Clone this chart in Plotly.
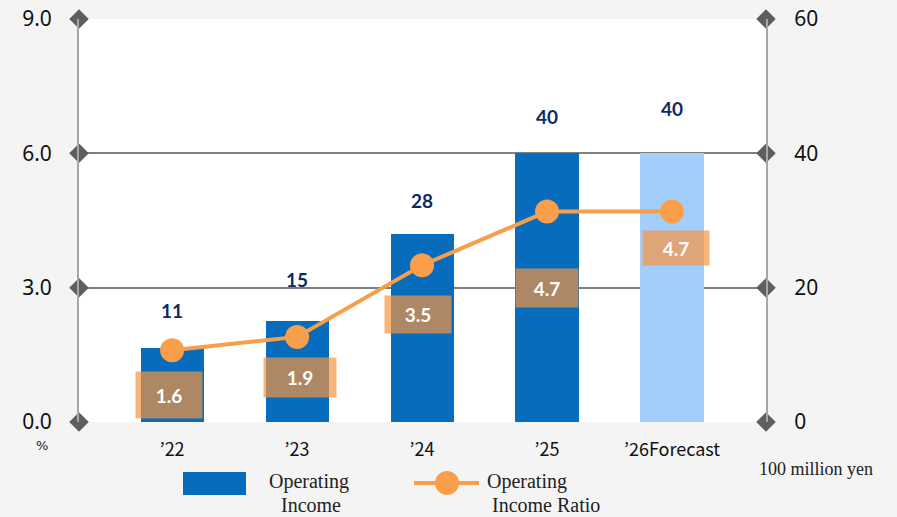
import plotly.graph_objects as go

years = ["’22", "’23", "’24", "’25", "’26Forecast"]
income = [11, 15, 28, 40, 40]
ratio = [1.6, 1.9, 3.5, 4.7, 4.7]
left_ticks = [0, 3, 6, 9]
left_tick_text = ["0.0", "3.0", "6.0", "9.0"]
right_ticks = [0, 20, 40, 60]
right_tick_text = ["0", "20", "40", "60"]

bar_colors = ["#066cbb"] * 4 + ["#a3cdfb"]
x = list(range(len(years)))
XMIN, XMAX = -0.745, 4.752

# layout helpers for labels (pixel offsets, not data)
bar_lab_shift = [38, 42, 33, 37, 45]
ratio_lab_dy = [-45, -41, -49, -76, -36]
ratio_lab_dx = [-3, 3, -4, 0, 4]
ratio_lab_w = [66, 72, 66, 62, 66]
ratio_lab_h = [46, 39, 37, 38, 34]

fig = go.Figure()
fig.add_trace(go.Bar(x=x, y=income, yaxis="y", marker=dict(color=bar_colors, line=dict(width=0)),
                     width=0.505, showlegend=False, hoverinfo="skip"))
fig.add_trace(go.Scatter(x=x, y=ratio, yaxis="y2", mode="lines+markers",
                         line=dict(color="#f79e4a", width=4),
                         marker=dict(color="#f99f4c", size=24), showlegend=False, hoverinfo="skip"))
fig.add_trace(go.Scatter(x=[XMIN] * len(left_ticks) + [XMAX] * len(left_ticks),
                         y=left_ticks + left_ticks, yaxis="y2", mode="markers", cliponaxis=False,
                         marker=dict(symbol="diamond", size=15, color="#5e5e5e"),
                         showlegend=False, hoverinfo="skip"))

ann = []
for i, (xi, v) in enumerate(zip(x, income)):
    ann.append(dict(x=xi, y=v, xref="x", yref="y", text=f"<b>{v}</b>", showarrow=False,
                    yshift=bar_lab_shift[i], font=dict(family="Lato", size=19, color="#0e2a62")))
for i, (xi, v) in enumerate(zip(x, ratio)):
    ann.append(dict(x=xi, y=v, xref="x", yref="y2", text=f"<b>{v:.1f}</b>", showarrow=False,
                    yshift=ratio_lab_dy[i], xshift=ratio_lab_dx[i],
                    width=ratio_lab_w[i], height=ratio_lab_h[i], borderpad=0,
                    bgcolor="rgba(246,148,64,0.7)",
                    font=dict(family="Lato", size=19, color="white")))

W, H = 687.0, 403.0
def px(xp):
    return (xp - 79) / W
def py(yp):
    return (422 - yp) / H

shapes = [
    dict(type="rect", xref="paper", yref="paper", x0=px(183), x1=px(246), y0=py(495), y1=py(472),
         fillcolor="#066cbb", line=dict(width=0)),
    dict(type="line", xref="paper", yref="paper", x0=px(414), x1=px(479), y0=py(483), y1=py(483),
         line=dict(color="#f79e4a", width=4)),
    dict(type="circle", xref="paper", yref="paper", x0=px(435), x1=px(459), y0=py(495), y1=py(471),
         fillcolor="#f99f4c", line=dict(width=0)),
]
serif = "Liberation Serif"
def txt(xp, yp, s, size=20, xa="center", fam=serif):
    return dict(x=px(xp), y=py(yp), xref="paper", yref="paper", text=s, showarrow=False,
                xanchor=xa, yanchor="middle", font=dict(family=fam, size=size, color="#222"))

ann += [
    txt(309, 481, "Operating"),
    txt(311, 505, "Income"),
    txt(485, 481, "Operating", xa="left"),
    txt(490, 505, "Income Ratio", xa="left"),
    txt(757, 469, "100 million yen", size=18, xa="left"),
    txt(42, 446, "%", size=13, fam="DejaVu Sans"),
]

fig.update_layout(
    width=897, height=517,
    margin=dict(l=79, r=131, t=19, b=95, autoexpand=False),
    paper_bgcolor="#f4f4f4", plot_bgcolor="white",
    bargap=0,
    xaxis=dict(range=[XMIN, XMAX], tickmode="array", tickvals=x, ticktext=years,
               showgrid=False, zeroline=False, showline=False, automargin=False,
               ticks="outside", ticklen=11, tickcolor="rgba(0,0,0,0)",
               tickfont=dict(family="Noto Sans CJK JP", size=18, color="#111")),
    yaxis=dict(range=[0, 60], side="right", tickmode="array",
               tickvals=right_ticks, ticktext=right_tick_text,
               showgrid=True, gridcolor="#7f7f7f", gridwidth=2, zeroline=False,
               showline=True, linecolor="#a6a6a6", linewidth=2, automargin=False,
               ticks="outside", ticklen=22, tickcolor="rgba(0,0,0,0)",
               tickfont=dict(family="Noto Sans", size=21, color="#111")),
    yaxis2=dict(range=[0, 9], overlaying="y", side="left", tickmode="array",
                tickvals=left_ticks, ticktext=left_tick_text, showgrid=False, zeroline=False,
                showline=True, linecolor="#a6a6a6", linewidth=2, automargin=False,
                ticks="outside", ticklen=21, tickcolor="rgba(0,0,0,0)",
                tickfont=dict(family="Noto Sans", size=21, color="#111")),
    shapes=shapes, annotations=ann,
)
fig.write_html("out.html", config={"displayModeBar": False},
               post_script="document.body.style.margin='0';document.body.style.background='#f4f4f4';")
